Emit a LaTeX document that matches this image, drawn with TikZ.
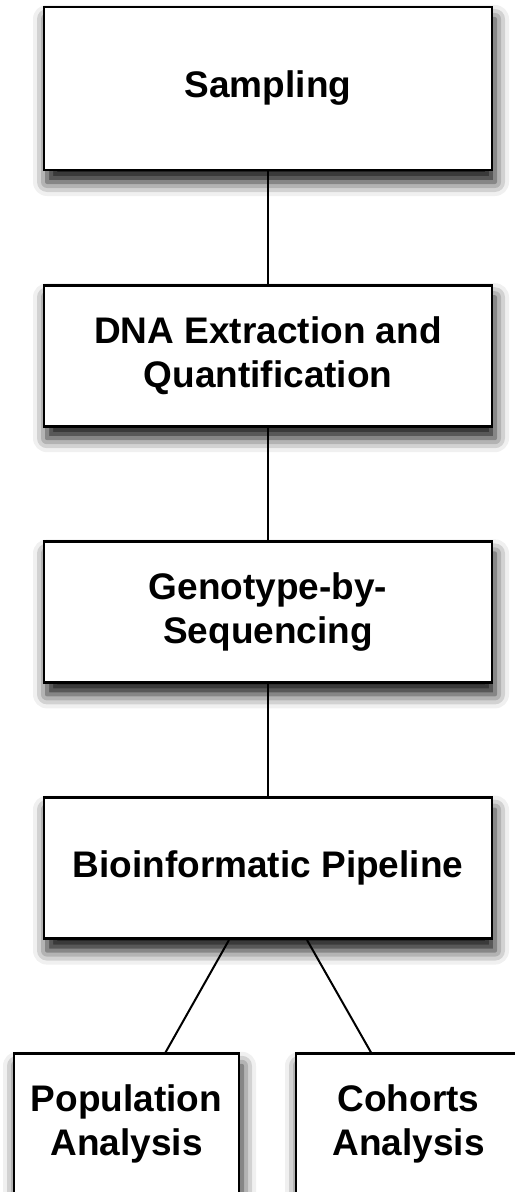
\documentclass[tikz,border=0pt]{standalone}
\usepackage{fontspec}
\setmainfont{Liberation Sans}
\usetikzlibrary{positioning,shadows.blur}

\tikzset{
  stage/.style={draw,line width=1.4pt,fill=white,align=center,
    font=\fontsize{18.5}{22}\selectfont\bfseries,
    minimum width=224pt,minimum height=70.5pt,inner sep=0pt,
    blur shadow={shadow xshift=1.5pt,shadow yshift=-6pt,shadow blur radius=7pt,shadow opacity=95}},
  leaf/.style={stage,minimum width=112.5pt},
  link/.style={line width=1pt}
}

\begin{document}
\begin{tikzpicture}
      \useasboundingbox (0,0) rectangle (257pt,-596pt);

      \node[stage,minimum height=81.5pt] (1) at (134pt,-44.25pt) {Sampling};
      \node[stage,below=56.2pt of 1] (2) {DNA Extraction and\\Quantification};
      \node[stage,below=56.2pt of 2] (3) {Genotype-by-\\Sequencing};
      \node[stage,below=56.2pt of 3] (4) {Bioinformatic Pipeline};
      \node[leaf,below=56.2pt of 4,xshift=-70.75pt] (5) {Population\\Analysis};
      \node[leaf,below=56.2pt of 4,xshift=70.25pt] (6) {Cohorts\\Analysis};

      \draw[link] (1) -- (2);
      \draw[link] (2) -- (3);
      \draw[link] (3) -- (4);
      \draw[link] ([xshift=-19.5pt]4.south) -- ([xshift=19.5pt]5.north);
      \draw[link] ([xshift=19.5pt]4.south) -- ([xshift=-18.75pt]6.north);
    \end{tikzpicture}
\end{document}
